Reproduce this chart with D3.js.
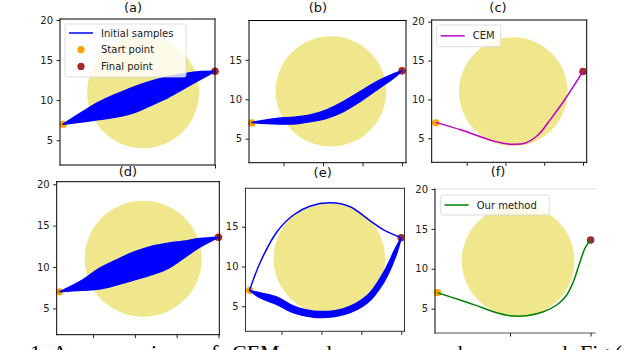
<!DOCTYPE html>
<html>
<head>
<meta charset="utf-8">
<script src="https://cdn.jsdelivr.net/npm/d3@7"></script>
<style>
  body { margin: 0; background: #fff; }
  svg { display: block; }
</style>
</head>
<body>
<div id="chart"></div>
<script>
// obstacle and end points (same in every panel)
const obstacleCenter = [11, 11];
const obstacleRadius = 7;
const startPoint = [1, 7];
const finalPoint = [20, 13.6];

// envelopes of the sampled trajectories: [x, lower y, upper y]
const samplesA = [[1, 7, 7], [3.5, 7.3, 8.6], [5.56, 7.6, 9.8], [7.64, 7.9, 10.75], [9.71, 8.4, 11.6],
    [11.78, 9.28, 12.3], [13.86, 10.2, 12.86], [15.93, 11.36, 13.27], [18, 12.5, 13.55], [20, 13.6, 13.6]];
const samplesB = [[1, 7.05, 7.05], [4.14, 6.87, 7.55], [6.24, 6.87, 7.72], [8.35, 7.16, 8.01], [10.46, 7.59, 8.65],
    [12.57, 8.43, 9.7], [14.68, 9.7, 10.97], [16.8, 11.19, 12.24], [18.9, 12.67, 13.22], [20, 13.6, 13.6]];
const samplesD = [[1, 7, 7], [3.73, 7.2, 8.41], [5.75, 7.33, 9.83], [7.76, 7.81, 10.83], [9.76, 8.41, 11.75],
    [11.77, 9.0, 12.43], [13.78, 9.74, 12.84], [15.78, 11.03, 13.12], [17.8, 12.43, 13.44], [20, 13.6, 13.6]];
const samplesE = [[1, 7, 7], [2.37, 6.05, 6.67], [4.46, 5.21, 6.13], [6.54, 4.17, 5.0], [9.05, 3.63, 4.38],
    [12.81, 3.96, 4.71], [15.74, 5.42, 6.34], [17.82, 8.05, 9.3], [19.29, 11.25, 12.3], [20, 13.6, 13.6]];
// single trajectory going over the obstacle in (e)
const detourE = [[1, 7], [2.37, 10.6], [4.46, 14.4], [6.54, 16.5], [8.63, 17.6], [11.1, 18.0],
    [13.6, 17.5], [15.7, 16.05], [17.8, 14.6], [20, 13.6]];
const cemPath = [[1, 7.05], [4.3, 6.06], [8.6, 4.6], [10.75, 4.23], [12.5, 4.36], [14.2, 5.42],
    [15.9, 7.56], [17.6, 9.9], [20, 13.6]];
const ourPath = [[1, 7], [3.79, 6.09], [5.86, 5.38], [7.93, 4.62], [10, 4.12], [12.07, 4.12], [14.14, 4.62],
    [15.8, 5.46], [17.04, 6.72], [17.86, 8.38], [18.7, 10.89], [19.3, 12.57], [20, 13.6]];

const xTicksAll = [5, 10, 15, 20];
const yTicksAll = [5, 10, 15, 20];
const yTicksNo20 = [5, 10, 15];
const legendA = ['Initial samples', 'Start point', 'Final point'];
const legendC = ['CEM'];
const legendF = ['Our method'];
const captionWords = ['Fig.', '1:', 'A', 'comparison', 'of', 'CEM', 'and', 'our', 'proposed', 'approach.', 'Fig.(c)'];
const captionX = [-30, 30, 52, 85, 200, 232, 300, 340, 382, 493, 580];

const width = 626,
    height = 350;
const font = '"DejaVu Sans", sans-serif';

const svg = d3.select('#chart').append('svg').attr('width', width).attr('height', height);
svg.append('rect').attr('width', width).attr('height', height).attr('fill', '#fff');

// layout of each sub-figure: box = [left, top, right, bottom]
const panels = [
    { title: '(a)', tx: 133, ty: 12, box: [60, 19, 215, 165], xd: [0.6, 20], yd: [1.92, 20.12], xt: [20], yt: yTicksAll,
      spines: ['#000', '#000', '#000', '#000'], band: samplesA, legend: { x: 65, y: 24, w: 121, h: 53, items: legendA } },
    { title: '(b)', tx: 318, ty: 12, box: [249, 20.5, 406, 162.7], xd: [0.63, 20.5], yd: [1.95, 19.99], xt: xTicksAll, yt: yTicksNo20,
      spines: ['#000', '#000', '#000', '#000'], band: samplesB },
    { title: '(c)', tx: 498, ty: 12, box: [431.7, 20, 586.7, 162.3], xd: [0.48, 20.48], yd: [1.91, 20.22], xt: xTicksAll, yt: yTicksAll,
      spines: ['#000', '#000', '#000', '#000'], path: cemPath, pathColor: '#bf00bf',
      legend: { x: 436.7, y: 25, w: 64, h: 21.7, items: legendC } },
    { title: '(d)', tx: 128, ty: 176, box: [56.7, 181.7, 219.3, 334.7], xd: [0.66, 20.1], yd: [1.82, 20.31], xt: xTicksAll, yt: yTicksAll,
      spines: ['#000', '#000', '#000', '#000'], band: samplesD },
    { title: '(e)', tx: 322.7, ty: 177, box: [245.5, 188.3, 404.5, 331.3], xd: [0.49, 20.41], yd: [1.86, 19.82], xt: xTicksAll, yt: yTicksNo20,
      spines: ['#333', '#333', '#333', '#333'], band: samplesE, detour: detourE },
    { title: '(f)', tx: 498, ty: 176, box: [435, 189, 595, 333], xd: [0.68, 20.55], yd: [1.95, 20.0], xt: [10, 20], yt: yTicksAll,
      spines: ['#ddd', null, '#555', '#000'], path: ourPath, pathColor: '#008000',
      legend: { x: 440.7, y: 195, w: 108.6, h: 20, items: legendF } },
];

panels.forEach(drawPanel);

function drawPanel(p) {
    const [l, t, r, b] = p.box;
    const x = d3.scaleLinear().domain(p.xd).range([l, r]);
    const y = d3.scaleLinear().domain(p.yd).range([b, t]);
    const g = svg.append('g');

    // obstacle
    g.append('ellipse')
        .attr('cx', x(obstacleCenter[0]))
        .attr('cy', y(obstacleCenter[1]))
        .attr('rx', x(obstacleCenter[0] + obstacleRadius) - x(obstacleCenter[0]))
        .attr('ry', y(obstacleCenter[1]) - y(obstacleCenter[1] + obstacleRadius))
        .attr('fill', '#f0e68c');

    // scatter points sit under the lines
    g.append('circle').attr('cx', x(startPoint[0])).attr('cy', y(startPoint[1])).attr('r', 3.6).attr('fill', '#ffa500');
    g.append('circle').attr('cx', x(finalPoint[0])).attr('cy', y(finalPoint[1])).attr('r', 3.8).attr('fill', '#a52a2a');

    if (p.band) {
        const area = d3.area()
            .x((d) => x(d[0]))
            .y0((d) => y(d[1]))
            .y1((d) => y(d[2]))
            .curve(d3.curveCatmullRom.alpha(0.5));
        g.append('path').datum(p.band).attr('d', area)
            .attr('fill', '#0000ff').attr('stroke', '#0000ff').attr('stroke-width', 1.5).attr('stroke-linejoin', 'round');
    }
    const line = d3.line()
        .x((d) => x(d[0]))
        .y((d) => y(d[1]))
        .curve(d3.curveCatmullRom.alpha(0.5));
    if (p.detour) {
        g.append('path').datum(p.detour).attr('d', line)
            .attr('fill', 'none').attr('stroke', '#0000ff').attr('stroke-width', 1.5);
    }
    if (p.path) {
        g.append('path').datum(p.path).attr('d', line)
            .attr('fill', 'none').attr('stroke', p.pathColor).attr('stroke-width', 1.5);
    }

    // spines: top, right, bottom, left
    const sp = [[l, t, r, t], [r, t, r, b], [l, b, r, b], [l, t, l, b]];
    sp.forEach((s, i) => {
        if (!p.spines[i]) return;
        g.append('line').attr('x1', s[0]).attr('y1', s[1]).attr('x2', s[2]).attr('y2', s[3])
            .attr('stroke', p.spines[i]).attr('stroke-width', 1).attr('stroke-linecap', 'square');
    });

    const yAxis = g.append('g').attr('transform', `translate(${l},0)`)
        .call(d3.axisLeft(y).tickValues(p.yt).tickSize(3.5).tickPadding(3.5).tickSizeOuter(0));
    const xAxis = g.append('g').attr('transform', `translate(0,${b})`)
        .call(d3.axisBottom(x).tickValues(p.xt).tickFormat('').tickSize(3.5).tickSizeOuter(0));
    [yAxis, xAxis].forEach((a) => {
        a.select('.domain').remove();
        a.selectAll('line').attr('stroke', '#222');
        a.selectAll('text').attr('fill', '#222').style('font-size', '10px').style('font-family', font);
    });

    // legend
    if (p.legend) {
        const L = p.legend;
        const lg = g.append('g');
        lg.append('rect').attr('x', L.x).attr('y', L.y).attr('width', L.w).attr('height', L.h)
            .attr('rx', 2).attr('fill', '#fff').attr('fill-opacity', 0.8).attr('stroke', '#d4d4d4').attr('stroke-width', 0.8);
        L.items.forEach((name, i) => {
            const cy = L.y + (L.items.length > 1 ? 9 + i * 16.7 : L.h / 2);
            if (i === 0) {
                const col = p.path ? p.pathColor : '#0000ff';
                lg.append('line').attr('x1', L.x + 4).attr('x2', L.x + 28).attr('y1', cy).attr('y2', cy)
                    .attr('stroke', col).attr('stroke-width', 1.5);
            } else {
                lg.append('circle').attr('cx', L.x + 16).attr('cy', cy).attr('r', 3.6)
                    .attr('fill', i === 1 ? '#ffa500' : '#a52a2a');
            }
            lg.append('text').attr('x', L.x + 36).attr('y', cy + 3.6).text(name)
                .attr('fill', '#222').style('font-size', '10px').style('font-family', font);
        });
    }

    svg.append('text').attr('x', p.tx).attr('y', p.ty).attr('text-anchor', 'middle').text(p.title)
        .attr('fill', '#111').style('font-size', '13px').style('font-family', font);
}

// caption of the paper figure, cut by the bottom edge
svg.append('g').selectAll('text').data(captionWords).enter().append('text')
    .attr('x', (d, i) => captionX[i])
    .attr('y', 360)
    .text((d) => d)
    .attr('fill', '#000')
    .style('font-size', '22px')
    .style('font-family', '"Liberation Serif", serif');
</script>
</body>
</html>
